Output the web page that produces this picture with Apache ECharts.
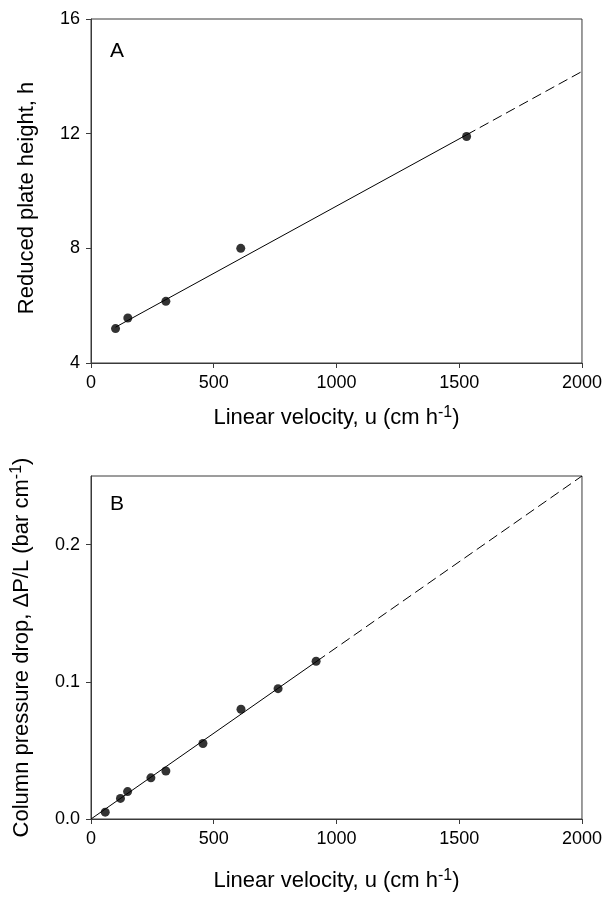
<!DOCTYPE html>
<html lang="en">
<head>
    <meta charset="UTF-8">
    <title>Plate height and pressure drop</title>
    <style>
        html, body { margin: 0; padding: 0; background: #fff; }
    </style>
</head>
<body>
<div id="chart" style="width:605px;height:898px;"></div>
<script src="https://cdn.jsdelivr.net/npm/echarts@6/dist/echarts.min.js"></script>
<script type="text/javascript">

    // panel A: reduced plate height vs linear velocity
    var uA = [100, 150, 305, 610, 1530];
    var hA = [5.2, 5.57, 6.15, 8.0, 11.9];
    var fitA_u = [100, 1530];
    var fitA_h = [5.25, 11.96];
    var extA_u = [1530, 2000];
    var extA_h = [11.96, 14.17];

    // panel B: column pressure drop vs linear velocity
    var uB = [58, 120, 149, 244, 305, 456, 611, 762, 917];
    var pB = [0.005, 0.015, 0.020, 0.030, 0.035, 0.055, 0.080, 0.095, 0.115];
    var fitB_u = [0, 920];
    var fitB_p = [0, 0.115];
    var extB_u = [920, 2000];
    var extB_p = [0.115, 0.25];

    function pairs(xs, ys) {
        var out = [];
        for (var i = 0; i < xs.length; i++) {
            out.push([xs[i], ys[i]]);
        }
        return out;
    }

    var font = 'Liberation Sans, Arial, sans-serif';
    var axisColor = '#3a3a3a';
    var supStyle = {
        sup: { fontSize: 16, fontFamily: font, color: '#000', padding: [0, 0, 9, 0] }
    };

    function xAxisOpt(idx, gap) {
        return {
            type: 'value',
            gridIndex: idx,
            min: 0,
            max: 2000,
            interval: 500,
            name: 'Linear velocity, u (cm h{sup|-1})',
            nameLocation: 'middle',
            nameGap: gap,
            nameTextStyle: { fontSize: 22, fontFamily: font, color: '#000', rich: supStyle },
            axisLine: { show: true, lineStyle: { color: axisColor, width: 1 } },
            axisTick: { show: true, inside: false, length: 5, lineStyle: { color: axisColor } },
            axisLabel: {
                fontSize: 18, fontFamily: font, color: '#000', margin: 11,
                formatter: function (v) { return String(v); }
            },
            splitLine: { show: false }
        };
    }

    var myChart = echarts.init(document.getElementById('chart'));

    var option = {
        backgroundColor: '#fff',
        animation: false,
        grid: [
            { left: 91, top: 19, width: 491, height: 344, show: true, borderColor: axisColor, borderWidth: 1 },
            { left: 91, top: 476, width: 491, height: 343, show: true, borderColor: axisColor, borderWidth: 1 }
        ],
        xAxis: [xAxisOpt(0, 42), xAxisOpt(1, 49)],
        yAxis: [
            {
                type: 'value',
                gridIndex: 0,
                min: 4,
                max: 16,
                interval: 4,
                name: 'Reduced plate height, h',
                nameLocation: 'middle',
                nameGap: 53,
                nameTextStyle: { fontSize: 22, fontFamily: font, color: '#000', padding: [0, 14, 0, 0] },
                axisLine: { show: true, lineStyle: { color: axisColor, width: 1 } },
                axisTick: { show: true, inside: false, length: 5, lineStyle: { color: axisColor } },
                axisLabel: { fontSize: 18, fontFamily: font, color: '#000', margin: 11 },
                splitLine: { show: false }
            },
            {
                type: 'value',
                gridIndex: 1,
                min: 0,
                max: 0.25,
                interval: 0.1,
                name: 'Column pressure drop, \u0394P/L (bar cm{sup|-1})',
                nameLocation: 'middle',
                nameGap: 57,
                nameTextStyle: { fontSize: 22, fontFamily: font, color: '#000', rich: supStyle },
                axisLine: { show: true, lineStyle: { color: axisColor, width: 1 } },
                axisTick: { show: true, inside: false, length: 5, lineStyle: { color: axisColor } },
                axisLabel: {
                    fontSize: 18, fontFamily: font, color: '#000', margin: 11,
                    showMaxLabel: false,
                    formatter: function (v) { return v.toFixed(1); }
                },
                splitLine: { show: false }
            }
        ],
        graphic: [
            { type: 'text', left: 110, top: 41, style: { text: 'A', fontSize: 21, fontFamily: font, fill: '#000' } },
            { type: 'text', left: 110, top: 494, style: { text: 'B', fontSize: 21, fontFamily: font, fill: '#000' } }
        ],
        series: [
            {
                type: 'line', xAxisIndex: 0, yAxisIndex: 0,
                data: pairs(fitA_u, fitA_h), showSymbol: false, silent: true,
                lineStyle: { color: '#000', width: 1 }
            },
            {
                type: 'line', xAxisIndex: 0, yAxisIndex: 0,
                data: pairs(extA_u, extA_h), showSymbol: false, silent: true,
                lineStyle: { color: '#000', width: 1, type: [10, 5] }
            },
            {
                type: 'scatter', xAxisIndex: 0, yAxisIndex: 0,
                data: pairs(uA, hA), symbol: 'circle', symbolSize: 9,
                itemStyle: { color: '#000' }
            },
            {
                type: 'line', xAxisIndex: 1, yAxisIndex: 1,
                data: pairs(fitB_u, fitB_p), showSymbol: false, silent: true,
                lineStyle: { color: '#000', width: 1 }
            },
            {
                type: 'line', xAxisIndex: 1, yAxisIndex: 1,
                data: pairs(extB_u, extB_p), showSymbol: false, silent: true,
                lineStyle: { color: '#000', width: 1, type: [10, 5] }
            },
            {
                type: 'scatter', xAxisIndex: 1, yAxisIndex: 1,
                data: pairs(uB, pB), symbol: 'circle', symbolSize: 9,
                itemStyle: { color: '#000' }
            }
        ]
    };

    myChart.setOption(option);

</script>
</body>
</html>
